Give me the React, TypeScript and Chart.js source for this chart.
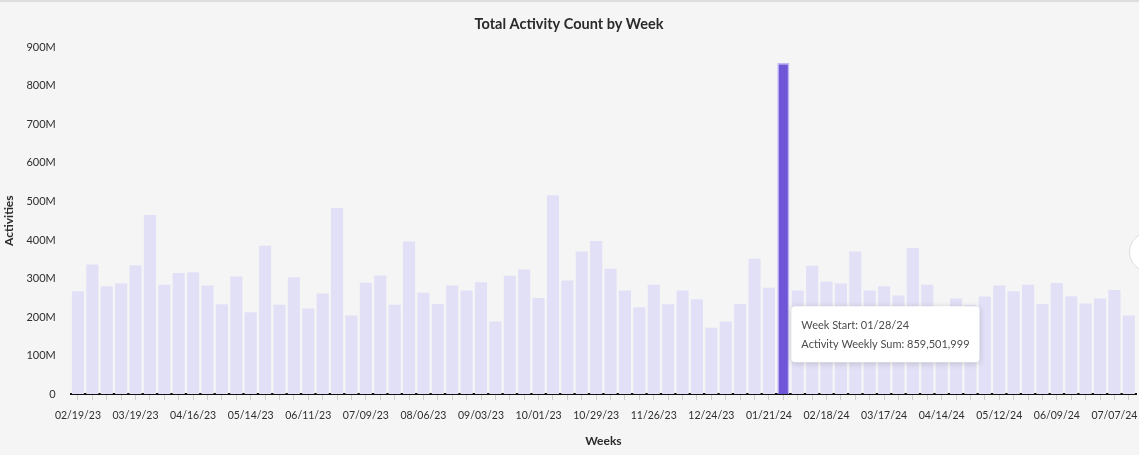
import React, { useEffect, useRef } from "react";
import { Chart, registerables } from "chart.js";

Chart.register(...registerables);

const weeks: string[] = [
  "02/19/23", "02/26/23", "03/05/23", "03/12/23", "03/19/23", "03/26/23", "04/02/23", "04/09/23",
  "04/16/23", "04/23/23", "04/30/23", "05/07/23", "05/14/23", "05/21/23", "05/28/23", "06/04/23",
  "06/11/23", "06/18/23", "06/25/23", "07/02/23", "07/09/23", "07/16/23", "07/23/23", "07/30/23",
  "08/06/23", "08/13/23", "08/20/23", "08/27/23", "09/03/23", "09/10/23", "09/17/23", "09/24/23",
  "10/01/23", "10/08/23", "10/15/23", "10/22/23", "10/29/23", "11/05/23", "11/12/23", "11/19/23",
  "11/26/23", "12/03/23", "12/10/23", "12/17/23", "12/24/23", "12/31/23", "01/07/24", "01/14/24",
  "01/21/24", "01/28/24", "02/04/24", "02/11/24", "02/18/24", "02/25/24", "03/03/24", "03/10/24",
  "03/17/24", "03/24/24", "03/31/24", "04/07/24", "04/14/24", "04/21/24", "04/28/24", "05/05/24",
  "05/12/24", "05/19/24", "05/26/24", "06/02/24", "06/09/24", "06/16/24", "06/23/24", "06/30/24",
  "07/07/24", "07/14/24",
];

// weekly activity sums, in millions
const activityMillions: number[] = [
  267, 336, 280, 287, 334, 465, 284, 314, 316, 282,
  233, 305, 212, 385, 232, 303, 222, 261, 483, 204,
  289, 308, 232, 396, 263, 234, 282, 269, 290, 188,
  307, 323, 249, 516, 295, 370, 397, 325, 269, 225,
  284, 233, 269, 246, 172, 188, 234, 351, 276, 859.501999,
  269, 333, 292, 287, 370, 269, 280, 256, 379, 284,
  220, 248, 231, 253, 282, 267, 284, 234, 288, 254,
  235, 248, 270, 204,
];

const highlightIndex = 49;
const yTicksMax = 900e6;
const yTickStep = 100e6;
const labelEvery = 4;

const FONT = "Lato, 'Open Sans', sans-serif";

const tooltipPlugin = {
  id: "fixedTooltip",
  afterDraw(chart: any) {
    const meta = chart.getDatasetMeta(0);
    const el = meta.data[highlightIndex];
    if (!el) return;
    const ctx = chart.ctx;
    const yScale = chart.scales.y;
    const raw = chart.data.datasets[0].data[highlightIndex] as number;
    const lines = [
      `Week Start: ${chart.data.labels[highlightIndex]}`,
      `Activity Weekly Sum: ${Math.round(raw).toLocaleString("en-US")}`,
    ];
    ctx.save();
    ctx.font = `11px ${FONT}`;
    const w = Math.max(...lines.map((l: string) => ctx.measureText(l).width)) + 20;
    const h = 56;
    const x = el.x + el.width / 2 + 2;
    const y = yScale.getPixelForValue(228e6);
    ctx.shadowColor = "rgba(0,0,0,0.18)";
    ctx.shadowBlur = 6;
    ctx.shadowOffsetY = 1;
    ctx.fillStyle = "#ffffff";
    ctx.beginPath();
    (ctx as any).roundRect(x, y, w, h, 4);
    ctx.fill();
    ctx.shadowColor = "transparent";
    ctx.fillStyle = "#4b4b4b";
    ctx.textBaseline = "middle";
    ctx.textAlign = "left";
    ctx.fillText(lines[0], x + 10, y + 19);
    ctx.fillText(lines[1], x + 10, y + 38);
    ctx.restore();
  },
};

export default function App() {
  const canvasRef = useRef<HTMLCanvasElement | null>(null);

  useEffect(() => {
    document.body.style.margin = "0";
    const canvas = canvasRef.current;
    if (!canvas) return;
    const data = activityMillions.map((v) => Math.round(v * 1e6));
    const bg = data.map((_, i) => (i === highlightIndex ? "#6f56d6" : "#e2e0f6"));
    const bc = data.map((_, i) => (i === highlightIndex ? "#c3b6f6" : "rgba(0,0,0,0)"));
    const bw = data.map((_, i) => (i === highlightIndex ? 1.5 : 0));
    const chart = new Chart(canvas, {
      type: "bar",
      data: {
        labels: weeks,
        datasets: [
          {
            label: "Activity Weekly Sum",
            data,
            backgroundColor: bg,
            borderColor: bc,
            borderWidth: bw,
            categoryPercentage: 1,
            barPercentage: 0.84,
          },
        ],
      },
      options: {
        animation: false,
        responsive: false,
        maintainAspectRatio: false,
        layout: { padding: { left: 2, right: 3, top: 0, bottom: 7 } },
        plugins: {
          legend: { display: false },
          tooltip: { enabled: false },
          title: {
            display: true,
            text: "Total Activity Count by Week",
            color: "#2a2a2a",
            font: { family: FONT, size: 14.5, weight: "bold" },
            padding: { top: 14, bottom: 14 },
          },
        },
        scales: {
          x: {
            offset: true,
            grid: {
              display: true,
              drawOnChartArea: false,
              drawTicks: true,
              tickLength: 6,
              color: "#cfcfcf",
              offset: false,
            },
            border: { display: true, color: "#111111", width: 2 },
            ticks: {
              autoSkip: false,
              maxRotation: 0,
              minRotation: 0,
              padding: 9,
              color: "#2e2e2e",
              font: { family: FONT, size: 10.5 },
              callback: (_v: any, i: number) => (i % labelEvery === 0 ? weeks[i] : ""),
            },
            title: {
              display: true,
              text: "Weeks",
              color: "#2a2a2a",
              font: { family: FONT, size: 12, weight: "bold" },
              padding: { top: 3, bottom: 0 },
            },
          },
          y: {
            min: 0,
            max: yTicksMax,
            grid: { display: false },
            border: { display: false },
            ticks: {
              stepSize: yTickStep,
              padding: 7,
              color: "#2e2e2e",
              font: { family: FONT, size: 11 },
              callback: (v: any) => (Number(v) === 0 ? "0" : `${Number(v) / 1e6}M`),
            },
            title: {
              display: true,
              text: "Activities",
              color: "#2a2a2a",
              font: { family: FONT, size: 12, weight: "bold" },
              padding: { top: 0, bottom: 3 },
            },
          },
        },
      },
      plugins: [tooltipPlugin],
    });
    return () => chart.destroy();
  }, []);

  return (
    <div
      style={{
        position: "relative",
        width: 1139,
        height: 455,
        background: "#f5f5f5",
        overflow: "hidden",
        borderTop: "2px solid #dedede",
        boxSizing: "border-box",
      }}
    >
      <canvas ref={canvasRef} width={1139} height={453} style={{ display: "block" }} />
      <div
        style={{
          position: "absolute",
          left: 1129,
          top: 230,
          width: 38,
          height: 38,
          borderRadius: "50%",
          background: "#ffffff",
          border: "1px solid #dcdcdc",
        }}
      />
    </div>
  );
}
